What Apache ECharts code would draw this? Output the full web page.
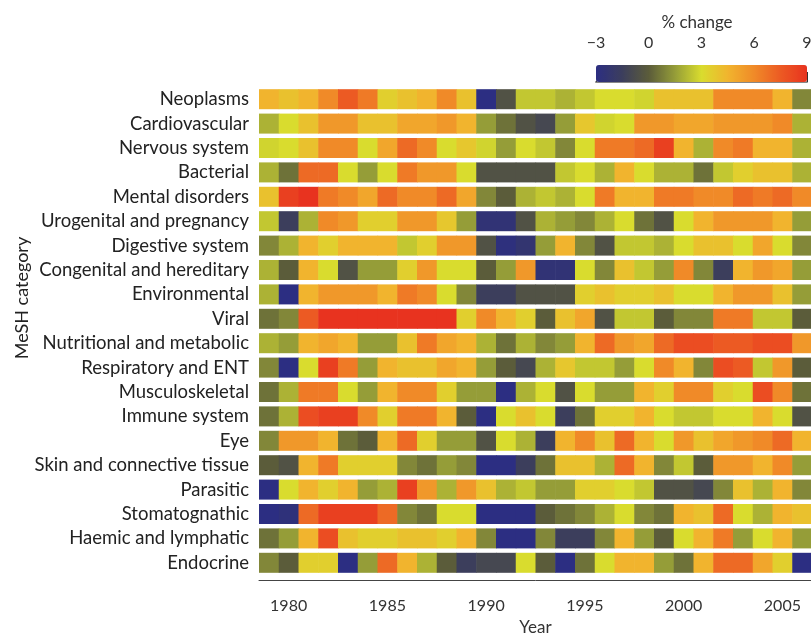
<!DOCTYPE html>
<html>
<head>
<meta charset="utf-8">
<script src="https://cdn.jsdelivr.net/npm/echarts@6/dist/echarts.min.js"></script>
<style>
  html, body { margin: 0; padding: 0; background: #fff; }
  #main { width: 811px; height: 633px; }
</style>
</head>
<body>
<div id="main"></div>
<script>
var categories = ['Neoplasms', 'Cardiovascular', 'Nervous system', 'Bacterial', 'Mental disorders',
  'Urogenital and pregnancy', 'Digestive system', 'Congenital and hereditary', 'Environmental', 'Viral',
  'Nutritional and metabolic', 'Respiratory and ENT', 'Musculoskeletal', 'Immune system', 'Eye',
  'Skin and connective tissue', 'Parasitic', 'Stomatognathic', 'Haemic and lymphatic', 'Endocrine'];

var years = [];
for (var yr = 1979; yr <= 2006; yr++) years.push(String(yr));

var legendTicks = [-3, 0, 3, 6, 9];

// % change per year, 1979..2006, one row per category
var pctChange = [
  [4.5, 4, 4.5, 6, 7.5, 6.5, 3.5, 4, 4.5, 6, 4, -3, -0.5, 2.5, 2.5, 2, 2.5, 3, 3, 2.8, 4, 4, 4, 6, 6, 6, 4.5, 1],
  [2, 3, 4, 5.5, 5.5, 4, 4, 5, 5, 5.5, 4.5, 1.5, 0.5, -0.5, -1, 1.5, 3.8, 2.8, 3, 5.5, 5.5, 5, 5, 5.5, 5.5, 5.5, 6, 2],
  [2.8, 3, 4, 6, 6, 3, 5, 7, 6, 3, 3.8, 2.8, 1.5, 3, 2.5, 1, 3, 6.5, 6.5, 7, 8.5, 4.5, 2, 6, 6.5, 4.5, 4.5, 2],
  [2, 0.5, 7, 7, 3, 1.5, 3, 6.5, 5.5, 5.5, 3, -0.5, -0.5, -0.5, -0.5, 2.5, 3, 2, 4.5, 3, 2, 2, 0.5, 2.5, 3.5, 4, 4, 2],
  [4, 8.5, 9, 6.5, 6, 5, 7, 6, 6, 7, 5, 1, 0, 2, 2.5, 2, 3, 6.5, 4.5, 4.5, 6.5, 6.5, 6, 6, 7, 6.5, 7, 6],
  [2.5, -1.5, 2, 6, 5.5, 3.5, 3.5, 5.5, 5.5, 3.8, 1.5, -2.5, -2.5, -0.5, 2, 1.5, 1, 2, 3, 0.5, -0.5, 3, 4.5, 5.5, 5.5, 5.5, 4.5, 1.5],
  [1, 2, 4.5, 3.5, 4.5, 4.5, 4.5, 2.5, 3.5, 5.5, 5.5, -0.5, -2.8, -2.3, 1.5, 4.5, 1, -0.5, 2.5, 2.5, 2, 3, 4, 4, 3, 5, 3, 1],
  [2, 0, 4.5, 3, -0.5, 1.5, 1.5, 3.5, 5.5, 3, 3, 0, 1.5, 5.5, -2.5, -2.5, 3, 1, 4, 2.5, 1.5, 6, 1, -1.5, 4.5, 5.5, 5, 1.5],
  [2, -3, 4.5, 5.5, 5.5, 5.5, 4.5, 6.5, 6, 3, 1, -1.5, -1.5, -0.5, -0.5, -0.5, 3.5, 4, 3.5, 3.5, 4, 3, 3, 4.5, 5.5, 5.5, 4, 1.5],
  [0.5, 1, 7.5, 9, 9, 9, 9, 9, 9, 9, 3.5, 6, 4.5, 3.5, 0, 4, 5, -0.5, 2.5, 2.5, 0, 1, 1, 6.5, 6.5, 2.5, 2.5, 0],
  [2, 1.5, 4.5, 5, 4.5, 1.5, 1.5, 4, 6.5, 5, 4.5, 2, 0.5, 2, 1, 1.5, 4.5, 7, 5.5, 5, 7, 8, 8, 7.5, 7.5, 8, 8, 5.5],
  [1, -3, 3, 8.5, 6.5, 1.5, 4.5, 4, 4, 5, 4.5, 1.5, 0, -1, 2, 3.8, 2.5, 2.5, 1.5, 3, 6, 4.5, 1, 8, 7.5, 2.5, 5.5, 0],
  [0.5, 2, 6.5, 6.5, 3, 1.5, 4.5, 6, 6, 3.5, 1.5, 1.5, -3, 2, 3, -0.5, 3, 1.5, 1.5, 4.5, 3.5, 6, 6, 3.5, 3, 8, 6, 0.5],
  [0.5, 2, 8, 8.5, 8.5, 6, 3.5, 6.5, 6.5, 4.5, 0, -3, 3, 4, 3, -1.5, 0.5, 3.5, 3.5, 4.5, 3, 2.5, 2.5, 3, 3, 4.5, 3, -0.5],
  [1, 5.5, 5.5, 4.5, 0.5, 0, 4.5, 7, 3.5, 1.5, 1.5, -0.5, 3, 2, -1.5, 4.5, 6, 4, 7, 4.5, 3, 5.5, 4, 5, 5.5, 6, 7, 4.5],
  [0, -0.5, 4.5, 6.5, 3.5, 3.5, 3.5, 1, 0.5, 1.5, 1, -3, -3, -1.5, 0.5, 4, 4, 2, 7, 4.5, 1, 2.5, 0, 5.5, 5.5, 4.5, 6, 1.5],
  [-3, 3, 4.5, 3.5, 4.5, 1.5, 2, 8.5, 5.5, 2, 5.5, 4, 2, 2.5, 1.5, 1.5, 3.5, 3.5, 3, 2.5, -0.5, -0.5, -1, 1, 4, 2, 4.5, 1],
  [-3, -2.7, 7, 8.5, 8.5, 8.5, 7, 1, 0.5, 3, 3, -3, -3, -3, 0, 0.5, 1, 2, 3, 1, 0.5, 4.5, 4, 7, 3, 2, 4.5, 4],
  [0.5, 1.5, 4.5, 8, 4, 3.5, 3.5, 4, 4, 3.5, 4.5, 1, -3, -3, 1, -1.5, -1.5, 1, 4.5, 1.5, 0, 3, 4.5, 6.5, 1.5, 3, 4.5, 1.5],
  [1, 0, 3.5, 3.5, -3, 1.5, 7, 4.5, 2, 0, -1.5, -1, -1, 3, 0, -3, 0.5, 3, 4.5, 4.5, 1.5, 0.5, 4.5, 7, 7, 5, 3.5, -3]
];

var cells = [];
pctChange.forEach(function (row, r) {
  row.forEach(function (v, c) { cells.push([c, r, v]); });
});

var FONT = 'Lato';
var chart = echarts.init(document.getElementById('main'));

var option = {
  backgroundColor: '#fff',
  animation: false,
  textStyle: { fontFamily: FONT },
  grid: [
    { left: 259, top: 87, width: 553, height: 488, containLabel: false, outerBoundsMode: 'none' },
    { left: 596, top: 64, width: 211, height: 18, containLabel: false, outerBoundsMode: 'none' }
  ],
  xAxis: [{
    type: 'category',
    gridIndex: 0,
    data: years,
    offset: 5,
    name: 'Year',
    nameLocation: 'middle',
    nameGap: 35,
    nameTextStyle: { fontSize: 17, color: '#333', fontFamily: FONT },
    axisLine: { lineStyle: { color: '#444', width: 1 } },
    axisTick: {
      alignWithLabel: true, length: 11, lineStyle: { color: '#444' },
      interval: function (i, v) { return +v % 5 === 0; }
    },
    axisLabel: {
      interval: function (i, v) { return +v % 5 === 0; },
      fontSize: 16, color: '#333', margin: 18, fontFamily: FONT
    },
    splitLine: { show: false }
  }, {
    type: 'value',
    gridIndex: 1,
    position: 'top',
    min: -3, max: 9, interval: 3,
    axisLine: { show: true, lineStyle: { color: '#888', width: 2 } },
    axisTick: { show: true, length: 10, lineStyle: { color: '#333' } },
    axisLabel: {
      fontSize: 16, color: '#333', margin: 13, fontFamily: FONT,
      formatter: function (v) { return legendTicks.indexOf(v) >= 0 ? (v < 0 ? '\u2212' + (-v) : String(v)) : ''; }
    },
    splitLine: { show: false }
  }],
  yAxis: [{
    type: 'category',
    gridIndex: 0,
    data: categories,
    inverse: true,
    axisLine: { show: false },
    axisTick: { show: false },
    axisLabel: { interval: 0, fontSize: 18.5, color: '#222', margin: 10, fontFamily: FONT },
    splitLine: { show: false }
  }, {
    type: 'value', gridIndex: 1, show: false, min: 0, max: 1
  }],
  visualMap: {
    type: 'continuous',
    seriesIndex: 0,
    dimension: 2,
    min: -3,
    max: 9,
    orient: 'horizontal',
    left: 596,
    top: 65,
    itemWidth: 17,
    itemHeight: 211,
    padding: 0,
    calculable: false,
    hoverLink: false,
    text: ['', ''],
    inRange: {
      color: ['#2c2e82', '#3c3e5c', '#5b5c3a', '#959d38', '#d9dc2e', '#f1b42e', '#f08a28', '#ec5a23', '#e8331f']
    }
  },
  graphic: [
    {
      type: 'text', x: 697, y: 23,
      style: { text: '% change', fontSize: 17, fill: '#333', fontFamily: FONT, align: 'center', verticalAlign: 'middle' }
    },
    {
      type: 'text', x: 22, y: 298, rotation: Math.PI / 2,
      style: { text: 'MeSH category', fontSize: 18, fill: '#222', fontFamily: FONT, align: 'center', verticalAlign: 'middle' }
    }
  ],
  series: [{
    type: 'custom',
    xAxisIndex: 0,
    yAxisIndex: 0,
    data: cells,
    encode: { x: 0, y: 1 },
    renderItem: function (params, api) {
      var p = api.coord([api.value(0), api.value(1)]);
      var size = api.size([1, 1]);
      var h = size[1] * 0.82;
      return {
        type: 'rect',
        shape: { x: p[0] - size[0] / 2, y: p[1] - h / 2, width: size[0] + 0.6, height: h },
        style: { fill: api.visual('color') }
      };
    }
  }]
};

chart.setOption(option);
</script>
</body>
</html>
